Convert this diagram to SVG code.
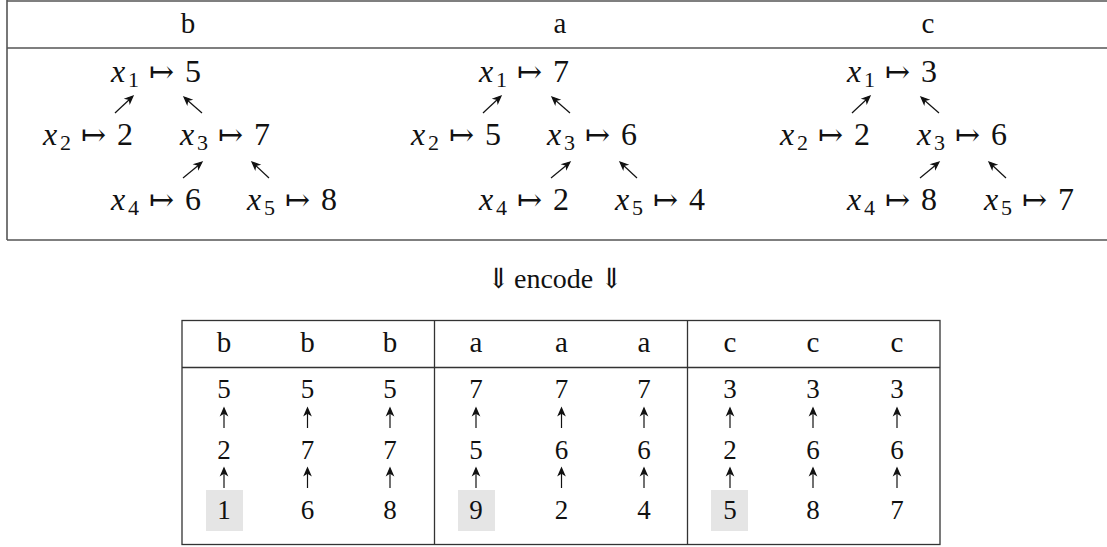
<svg xmlns="http://www.w3.org/2000/svg" width="1107" height="547" viewBox="0 0 1107 547">
<defs>
<path id="hd" d="M0,0 L-7,-3 L-5,0 L-7,3 Z" fill="#111"/>
</defs>

<g id="top-table" stroke="#555" stroke-width="1.6" fill="none">
<line x1="7" y1="1" x2="1107" y2="1"/>
<line x1="7" y1="48" x2="1107" y2="48"/>
<line x1="7" y1="240" x2="1107" y2="240"/>
<line x1="7" y1="0" x2="7" y2="240"/>
</g>
<g id="top-headers" fill="#111" font-size="29" text-anchor="middle">
<text font-family="Liberation Serif" x="188" y="33">b</text>
<text font-family="Liberation Serif" x="560" y="33">a</text>
<text font-family="Liberation Serif" x="928" y="33">c</text>
</g>

<g id="panel-b" fill="#111">
<g id="b-x1" transform="translate(111,82)"><text font-family="Liberation Serif" font-style="italic" font-size="32" x="0" y="0">x</text><text font-family="Liberation Serif" font-size="22" x="17" y="5">1</text><text font-family="DejaVu Serif" font-size="30" x="38" y="0">↦</text><text font-family="Liberation Serif" font-size="32" x="74" y="0">5</text></g>
<g id="b-x2" transform="translate(43,145)"><text font-family="Liberation Serif" font-style="italic" font-size="32" x="0" y="0">x</text><text font-family="Liberation Serif" font-size="22" x="17" y="5">2</text><text font-family="DejaVu Serif" font-size="30" x="38" y="0">↦</text><text font-family="Liberation Serif" font-size="32" x="74" y="0">2</text></g>
<g id="b-x3" transform="translate(180,145)"><text font-family="Liberation Serif" font-style="italic" font-size="32" x="0" y="0">x</text><text font-family="Liberation Serif" font-size="22" x="17" y="5">3</text><text font-family="DejaVu Serif" font-size="30" x="38" y="0">↦</text><text font-family="Liberation Serif" font-size="32" x="74" y="0">7</text></g>
<g id="b-x4" transform="translate(111,210)"><text font-family="Liberation Serif" font-style="italic" font-size="32" x="0" y="0">x</text><text font-family="Liberation Serif" font-size="22" x="17" y="5">4</text><text font-family="DejaVu Serif" font-size="30" x="38" y="0">↦</text><text font-family="Liberation Serif" font-size="32" x="74" y="0">6</text></g>
<g id="b-x5" transform="translate(247,210)"><text font-family="Liberation Serif" font-style="italic" font-size="32" x="0" y="0">x</text><text font-family="Liberation Serif" font-size="22" x="17" y="5">5</text><text font-family="DejaVu Serif" font-size="30" x="38" y="0">↦</text><text font-family="Liberation Serif" font-size="32" x="74" y="0">8</text></g>
</g>

<g id="panel-a" fill="#111">
<g id="a-x1" transform="translate(479,82)"><text font-family="Liberation Serif" font-style="italic" font-size="32" x="0" y="0">x</text><text font-family="Liberation Serif" font-size="22" x="17" y="5">1</text><text font-family="DejaVu Serif" font-size="30" x="38" y="0">↦</text><text font-family="Liberation Serif" font-size="32" x="74" y="0">7</text></g>
<g id="a-x2" transform="translate(411,145)"><text font-family="Liberation Serif" font-style="italic" font-size="32" x="0" y="0">x</text><text font-family="Liberation Serif" font-size="22" x="17" y="5">2</text><text font-family="DejaVu Serif" font-size="30" x="38" y="0">↦</text><text font-family="Liberation Serif" font-size="32" x="74" y="0">5</text></g>
<g id="a-x3" transform="translate(547,145)"><text font-family="Liberation Serif" font-style="italic" font-size="32" x="0" y="0">x</text><text font-family="Liberation Serif" font-size="22" x="17" y="5">3</text><text font-family="DejaVu Serif" font-size="30" x="38" y="0">↦</text><text font-family="Liberation Serif" font-size="32" x="74" y="0">6</text></g>
<g id="a-x4" transform="translate(479,210)"><text font-family="Liberation Serif" font-style="italic" font-size="32" x="0" y="0">x</text><text font-family="Liberation Serif" font-size="22" x="17" y="5">4</text><text font-family="DejaVu Serif" font-size="30" x="38" y="0">↦</text><text font-family="Liberation Serif" font-size="32" x="74" y="0">2</text></g>
<g id="a-x5" transform="translate(615,210)"><text font-family="Liberation Serif" font-style="italic" font-size="32" x="0" y="0">x</text><text font-family="Liberation Serif" font-size="22" x="17" y="5">5</text><text font-family="DejaVu Serif" font-size="30" x="38" y="0">↦</text><text font-family="Liberation Serif" font-size="32" x="74" y="0">4</text></g>
</g>

<g id="panel-c" fill="#111">
<g id="c-x1" transform="translate(847,82)"><text font-family="Liberation Serif" font-style="italic" font-size="32" x="0" y="0">x</text><text font-family="Liberation Serif" font-size="22" x="17" y="5">1</text><text font-family="DejaVu Serif" font-size="30" x="38" y="0">↦</text><text font-family="Liberation Serif" font-size="32" x="74" y="0">3</text></g>
<g id="c-x2" transform="translate(780,145)"><text font-family="Liberation Serif" font-style="italic" font-size="32" x="0" y="0">x</text><text font-family="Liberation Serif" font-size="22" x="17" y="5">2</text><text font-family="DejaVu Serif" font-size="30" x="38" y="0">↦</text><text font-family="Liberation Serif" font-size="32" x="74" y="0">2</text></g>
<g id="c-x3" transform="translate(917,145)"><text font-family="Liberation Serif" font-style="italic" font-size="32" x="0" y="0">x</text><text font-family="Liberation Serif" font-size="22" x="17" y="5">3</text><text font-family="DejaVu Serif" font-size="30" x="38" y="0">↦</text><text font-family="Liberation Serif" font-size="32" x="74" y="0">6</text></g>
<g id="c-x4" transform="translate(847,210)"><text font-family="Liberation Serif" font-style="italic" font-size="32" x="0" y="0">x</text><text font-family="Liberation Serif" font-size="22" x="17" y="5">4</text><text font-family="DejaVu Serif" font-size="30" x="38" y="0">↦</text><text font-family="Liberation Serif" font-size="32" x="74" y="0">8</text></g>
<g id="c-x5" transform="translate(984,210)"><text font-family="Liberation Serif" font-style="italic" font-size="32" x="0" y="0">x</text><text font-family="Liberation Serif" font-size="22" x="17" y="5">5</text><text font-family="DejaVu Serif" font-size="30" x="38" y="0">↦</text><text font-family="Liberation Serif" font-size="32" x="74" y="0">7</text></g>
</g>

<g id="connectors" stroke="#111" stroke-width="1.2">
<g id="tree-b">
<line x1="115" y1="113" x2="131" y2="98"/><use href="#hd" transform="translate(133,96) rotate(-43)"/>
<line x1="202" y1="113" x2="186" y2="99"/><use href="#hd" transform="translate(184,97) rotate(-137)"/>
<line x1="183" y1="178" x2="200" y2="164"/><use href="#hd" transform="translate(202,162) rotate(-40)"/>
<line x1="269" y1="178" x2="254" y2="164"/><use href="#hd" transform="translate(252,162) rotate(-137)"/>
</g>
<g id="tree-a" transform="translate(368,0)">
<line x1="115" y1="113" x2="131" y2="98"/><use href="#hd" transform="translate(133,96) rotate(-43)"/>
<line x1="202" y1="113" x2="186" y2="99"/><use href="#hd" transform="translate(184,97) rotate(-137)"/>
<line x1="183" y1="178" x2="200" y2="164"/><use href="#hd" transform="translate(202,162) rotate(-40)"/>
<line x1="269" y1="178" x2="254" y2="164"/><use href="#hd" transform="translate(252,162) rotate(-137)"/>
</g>
<g id="tree-c" transform="translate(737,0)">
<line x1="115" y1="113" x2="131" y2="98"/><use href="#hd" transform="translate(133,96) rotate(-43)"/>
<line x1="202" y1="113" x2="186" y2="99"/><use href="#hd" transform="translate(184,97) rotate(-137)"/>
<line x1="183" y1="178" x2="200" y2="164"/><use href="#hd" transform="translate(202,162) rotate(-40)"/>
<line x1="269" y1="178" x2="254" y2="164"/><use href="#hd" transform="translate(252,162) rotate(-137)"/>
</g>
<g id="col-arrows">
<line x1="224" y1="428" x2="224" y2="410"/><use href="#hd" transform="translate(224,408) rotate(-90)"/><line x1="224" y1="488" x2="224" y2="470"/><use href="#hd" transform="translate(224,468) rotate(-90)"/>
<line x1="307.5" y1="428" x2="307.5" y2="410"/><use href="#hd" transform="translate(307.5,408) rotate(-90)"/><line x1="307.5" y1="488" x2="307.5" y2="470"/><use href="#hd" transform="translate(307.5,468) rotate(-90)"/>
<line x1="390" y1="428" x2="390" y2="410"/><use href="#hd" transform="translate(390,408) rotate(-90)"/><line x1="390" y1="488" x2="390" y2="470"/><use href="#hd" transform="translate(390,468) rotate(-90)"/>
<line x1="476" y1="428" x2="476" y2="410"/><use href="#hd" transform="translate(476,408) rotate(-90)"/><line x1="476" y1="488" x2="476" y2="470"/><use href="#hd" transform="translate(476,468) rotate(-90)"/>
<line x1="561.5" y1="428" x2="561.5" y2="410"/><use href="#hd" transform="translate(561.5,408) rotate(-90)"/><line x1="561.5" y1="488" x2="561.5" y2="470"/><use href="#hd" transform="translate(561.5,468) rotate(-90)"/>
<line x1="644" y1="428" x2="644" y2="410"/><use href="#hd" transform="translate(644,408) rotate(-90)"/><line x1="644" y1="488" x2="644" y2="470"/><use href="#hd" transform="translate(644,468) rotate(-90)"/>
<line x1="730" y1="428" x2="730" y2="410"/><use href="#hd" transform="translate(730,408) rotate(-90)"/><line x1="730" y1="488" x2="730" y2="470"/><use href="#hd" transform="translate(730,468) rotate(-90)"/>
<line x1="813" y1="428" x2="813" y2="410"/><use href="#hd" transform="translate(813,408) rotate(-90)"/><line x1="813" y1="488" x2="813" y2="470"/><use href="#hd" transform="translate(813,468) rotate(-90)"/>
<line x1="897" y1="428" x2="897" y2="410"/><use href="#hd" transform="translate(897,408) rotate(-90)"/><line x1="897" y1="488" x2="897" y2="470"/><use href="#hd" transform="translate(897,468) rotate(-90)"/>
</g>
</g>

<g id="encode" fill="#111" font-size="28">
<text font-family="DejaVu Serif" x="487" y="288">⇓</text>
<text font-family="Liberation Serif" x="514" y="288">encode</text>
<text font-family="DejaVu Serif" x="600" y="288">⇓</text>
</g>

<g id="bottom-table">
<g id="highlights" fill="#e5e5e5">
<rect x="206" y="490" width="37" height="41"/>
<rect x="458" y="490" width="37" height="41"/>
<rect x="711" y="490" width="37" height="41"/>
</g>
<g id="grid" stroke="#333" stroke-width="1.3" fill="none">
<rect x="182" y="320.5" width="758" height="224"/>
<line x1="182" y1="367.5" x2="940" y2="367.5"/>
<line x1="434.5" y1="320.5" x2="434.5" y2="544.5"/>
<line x1="687.5" y1="320.5" x2="687.5" y2="544.5"/>
</g>
<g id="hdrs" fill="#111" font-size="29" text-anchor="middle">
<text font-family="Liberation Serif" x="224" y="352">b</text><text font-family="Liberation Serif" x="307.5" y="352">b</text><text font-family="Liberation Serif" x="390" y="352">b</text>
<text font-family="Liberation Serif" x="476" y="352">a</text><text font-family="Liberation Serif" x="561.5" y="352">a</text><text font-family="Liberation Serif" x="644" y="352">a</text>
<text font-family="Liberation Serif" x="730" y="352">c</text><text font-family="Liberation Serif" x="813" y="352">c</text><text font-family="Liberation Serif" x="897" y="352">c</text>
</g>
<g id="cols" fill="#111" font-size="27" text-anchor="middle">
<g id="col-b1"><text font-family="Liberation Serif" x="224" y="398">5</text><text font-family="Liberation Serif" x="224" y="459">2</text><text font-family="Liberation Serif" x="224" y="519">1</text></g>
<g id="col-b2"><text font-family="Liberation Serif" x="307.5" y="398">5</text><text font-family="Liberation Serif" x="307.5" y="459">7</text><text font-family="Liberation Serif" x="307.5" y="519">6</text></g>
<g id="col-b3"><text font-family="Liberation Serif" x="390" y="398">5</text><text font-family="Liberation Serif" x="390" y="459">7</text><text font-family="Liberation Serif" x="390" y="519">8</text></g>
<g id="col-a1"><text font-family="Liberation Serif" x="476" y="398">7</text><text font-family="Liberation Serif" x="476" y="459">5</text><text font-family="Liberation Serif" x="476" y="519">9</text></g>
<g id="col-a2"><text font-family="Liberation Serif" x="561.5" y="398">7</text><text font-family="Liberation Serif" x="561.5" y="459">6</text><text font-family="Liberation Serif" x="561.5" y="519">2</text></g>
<g id="col-a3"><text font-family="Liberation Serif" x="644" y="398">7</text><text font-family="Liberation Serif" x="644" y="459">6</text><text font-family="Liberation Serif" x="644" y="519">4</text></g>
<g id="col-c1"><text font-family="Liberation Serif" x="730" y="398">3</text><text font-family="Liberation Serif" x="730" y="459">2</text><text font-family="Liberation Serif" x="730" y="519">5</text></g>
<g id="col-c2"><text font-family="Liberation Serif" x="813" y="398">3</text><text font-family="Liberation Serif" x="813" y="459">6</text><text font-family="Liberation Serif" x="813" y="519">8</text></g>
<g id="col-c3"><text font-family="Liberation Serif" x="897" y="398">3</text><text font-family="Liberation Serif" x="897" y="459">6</text><text font-family="Liberation Serif" x="897" y="519">7</text></g>
</g>
</g>
</svg>
